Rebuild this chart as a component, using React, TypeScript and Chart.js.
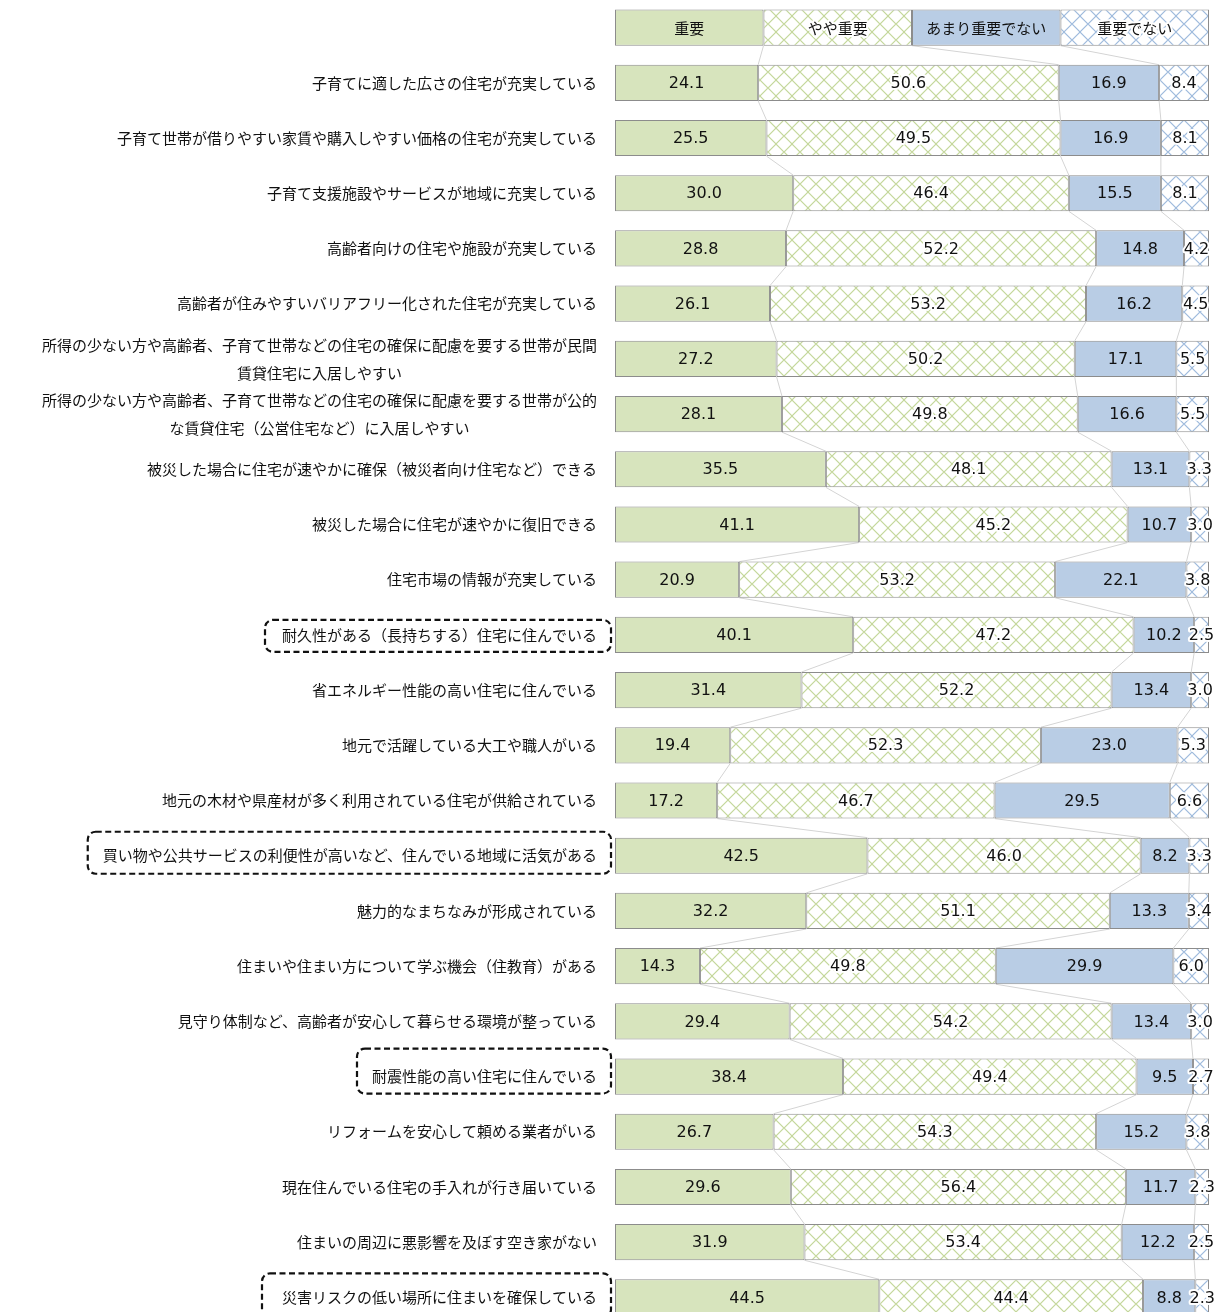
import { useEffect, useRef } from "react";
import { Chart, registerables } from "chart.js";

Chart.register(...registerables);

const seriesNames = ["重要", "やや重要", "あまり重要でない", "重要でない"];
const legendShares = [25, 25, 25, 25];

const categories: string[][] = [
  ["子育てに適した広さの住宅が充実している"],
  ["子育て世帯が借りやすい家賃や購入しやすい価格の住宅が充実している"],
  ["子育て支援施設やサービスが地域に充実している"],
  ["高齢者向けの住宅や施設が充実している"],
  ["高齢者が住みやすいバリアフリー化された住宅が充実している"],
  ["所得の少ない方や高齢者、子育て世帯などの住宅の確保に配慮を要する世帯が民間", "賃貸住宅に入居しやすい"],
  ["所得の少ない方や高齢者、子育て世帯などの住宅の確保に配慮を要する世帯が公的", "な賃貸住宅（公営住宅など）に入居しやすい"],
  ["被災した場合に住宅が速やかに確保（被災者向け住宅など）できる"],
  ["被災した場合に住宅が速やかに復旧できる"],
  ["住宅市場の情報が充実している"],
  ["耐久性がある（長持ちする）住宅に住んでいる"],
  ["省エネルギー性能の高い住宅に住んでいる"],
  ["地元で活躍している大工や職人がいる"],
  ["地元の木材や県産材が多く利用されている住宅が供給されている"],
  ["買い物や公共サービスの利便性が高いなど、住んでいる地域に活気がある"],
  ["魅力的なまちなみが形成されている"],
  ["住まいや住まい方について学ぶ機会（住教育）がある"],
  ["見守り体制など、高齢者が安心して暮らせる環境が整っている"],
  ["耐震性能の高い住宅に住んでいる"],
  ["リフォームを安心して頼める業者がいる"],
  ["現在住んでいる住宅の手入れが行き届いている"],
  ["住まいの周辺に悪影響を及ぼす空き家がない"],
  ["災害リスクの低い場所に住まいを確保している"],
];

const important = [24.1, 25.5, 30.0, 28.8, 26.1, 27.2, 28.1, 35.5, 41.1, 20.9, 40.1, 31.4, 19.4, 17.2, 42.5, 32.2, 14.3, 29.4, 38.4, 26.7, 29.6, 31.9, 44.5];
const somewhat = [50.6, 49.5, 46.4, 52.2, 53.2, 50.2, 49.8, 48.1, 45.2, 53.2, 47.2, 52.2, 52.3, 46.7, 46.0, 51.1, 49.8, 54.2, 49.4, 54.3, 56.4, 53.4, 44.4];
const notVery = [16.9, 16.9, 15.5, 14.8, 16.2, 17.1, 16.6, 13.1, 10.7, 22.1, 10.2, 13.4, 23.0, 29.5, 8.2, 13.3, 29.9, 13.4, 9.5, 15.2, 11.7, 12.2, 8.8];
const notAtAll = [8.4, 8.1, 8.1, 4.2, 4.5, 5.5, 5.5, 3.3, 3.0, 3.8, 2.5, 3.0, 5.3, 6.6, 3.3, 3.4, 6.0, 3.0, 2.7, 3.8, 2.3, 2.5, 2.3];

// highlighted (dashed-box) categories
const highlighted = [
  { label: "耐久性がある（長持ちする）住宅に住んでいる", up: 15, down: 17, pad: 17 },
  { label: "買い物や公共サービスの利便性が高いなど、住んでいる地域に活気がある", up: 24, down: 18, pad: 15 },
  { label: "耐震性能の高い住宅に住んでいる", up: 28, down: 17, pad: 15 },
  { label: "災害リスクの低い場所に住まいを確保している", up: 24, down: 20, pad: 20 },
];

const CJK = "'Noto Sans CJK JP', 'Noto Sans', sans-serif";
const NUM = "'DejaVu Sans', 'Noto Sans', sans-serif";

function makePattern(color: string): CanvasPattern | string {
  const c = document.createElement("canvas");
  const s = 16;
  c.width = s;
  c.height = s;
  const g = c.getContext("2d");
  if (!g) return "#fff";
  g.fillStyle = "#ffffff";
  g.fillRect(0, 0, s, s);
  g.strokeStyle = color;
  g.lineWidth = 1.1;
  g.beginPath();
  g.moveTo(0, s / 2);
  g.lineTo(s / 2, 0);
  g.lineTo(s, s / 2);
  g.lineTo(s / 2, s);
  g.closePath();
  g.stroke();
  const p = g.createPattern(c, "repeat");
  return p || "#fff";
}

export default function App() {
  const ref = useRef<HTMLCanvasElement | null>(null);

  useEffect(() => {
    const canvas = ref.current;
    if (!canvas) return;
    const labels = [[""], ...categories];
    const values = [important, somewhat, notVery, notAtAll];
    const fills: any[] = [
      "#d7e4bd",
      makePattern("#c4d79b"),
      "#b9cde5",
      makePattern("#9fbbdd"),
    ];
    const patterned = [false, true, false, true];

    const seriesLinePlugin = {
      id: "seriesLines",
      beforeDatasetsDraw(chart: any) {
        const ctx = chart.ctx;
        ctx.save();
        ctx.strokeStyle = "#d4d4d4";
        ctx.lineWidth = 1;
        for (let di = 0; di < 3; di++) {
          const meta = chart.getDatasetMeta(di);
          for (let i = 0; i < meta.data.length - 1; i++) {
            const a = meta.data[i];
            const b = meta.data[i + 1];
            ctx.beginPath();
            ctx.moveTo(a.x, a.y + a.height / 2);
            ctx.lineTo(b.x, b.y - b.height / 2);
            ctx.stroke();
          }
        }
        ctx.restore();
      },
    };

    const valueLabelPlugin = {
      id: "valueLabels",
      afterDatasetsDraw(chart: any) {
        const ctx = chart.ctx;
        ctx.save();
        ctx.textAlign = "center";
        ctx.textBaseline = "middle";
        chart.data.datasets.forEach((ds: any, di: number) => {
          const meta = chart.getDatasetMeta(di);
          meta.data.forEach((el: any, i: number) => {
            const cx = (el.x + el.base) / 2;
            const cy = el.y + 1;
            let text: string;
            if (i === 0) {
              text = seriesNames[di];
              ctx.font = `15px ${CJK}`;
            } else {
              text = Number(ds.data[i]).toFixed(1);
              ctx.font = `16px ${NUM}`;
            }
            if (patterned[di]) {
              ctx.strokeStyle = "#ffffff";
              ctx.lineWidth = 4;
              ctx.lineJoin = "round";
              ctx.strokeText(text, cx, cy);
            }
            ctx.fillStyle = "#111111";
            ctx.fillText(text, cx, cy);
          });
        });
        ctx.restore();
      },
    };

    const categoryLabelPlugin = {
      id: "categoryLabels",
      afterDraw(chart: any) {
        const ctx = chart.ctx;
        const y = chart.scales.y;
        const right = 597;
        ctx.save();
        ctx.font = `15px ${CJK}`;
        ctx.fillStyle = "#111111";
        ctx.textBaseline = "middle";
        ctx.textAlign = "center";
        labels.forEach((lines, i) => {
          if (i === 0) return;
          const cy = y.getPixelForValue(i);
          const widths = lines.map((l) => ctx.measureText(l).width);
          const maxW = Math.max(...widths);
          const mid = right - maxW / 2;
          const lh = 28;
          lines.forEach((l, k) => {
            const ly = cy + (k - (lines.length - 1) / 2) * lh;
            ctx.fillText(l, mid, ly);
          });
          const hl = highlighted.find((h) => h.label === lines[0]);
          if (hl) {
            const left = right - maxW - hl.pad;
            const boxR = 611;
            const top = cy - hl.up;
            const bot = cy + hl.down;
            const r = 8;
            ctx.save();
            ctx.strokeStyle = "#111111";
            ctx.lineWidth = 2.2;
            ctx.setLineDash([6, 3.5]);
            ctx.beginPath();
            ctx.moveTo(left + r, top);
            ctx.lineTo(boxR - r, top);
            ctx.arcTo(boxR, top, boxR, top + r, r);
            ctx.lineTo(boxR, bot - r);
            ctx.arcTo(boxR, bot, boxR - r, bot, r);
            ctx.lineTo(left + r, bot);
            ctx.arcTo(left, bot, left, bot - r, r);
            ctx.lineTo(left, top + r);
            ctx.arcTo(left, top, left + r, top, r);
            ctx.closePath();
            ctx.stroke();
            ctx.restore();
          }
        });
        ctx.restore();
      },
    };

    const chart = new Chart(canvas, {
      type: "bar",
      data: {
        labels: labels.map((l) => l.join("")),
        datasets: seriesNames.map((name, di) => ({
          label: name,
          data: [legendShares[di], ...values[di]],
          backgroundColor: fills[di],
          borderColor: "#8c8c8c",
          borderWidth: 1,
          borderSkipped: false,
          categoryPercentage: 1,
          barPercentage: 0.655,
        })),
      },
      options: {
        indexAxis: "y",
        animation: false,
        responsive: false,
        devicePixelRatio: 1,
        layout: { padding: { left: 615, right: 5, top: 0, bottom: 0 } },
        plugins: {
          legend: { display: false },
          tooltip: { enabled: false },
          title: { display: false },
        },
        scales: {
          x: { stacked: true, min: 0, max: 100, display: false },
          y: { stacked: true, display: false },
        },
      },
      plugins: [seriesLinePlugin, valueLabelPlugin, categoryLabelPlugin],
    });
    return () => chart.destroy();
  }, []);

  return (
    <div style={{ position: "absolute", left: 0, top: 0, width: 1214, height: 1312, overflow: "hidden", background: "#fff" }}>
      <canvas ref={ref} width={1214} height={1325} style={{ width: 1214, height: 1325, display: "block" }} />
    </div>
  );
}
